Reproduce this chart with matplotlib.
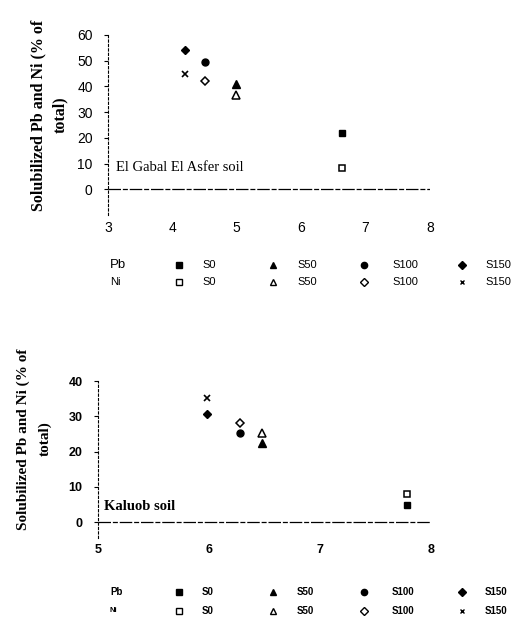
import numpy as np
import matplotlib.pyplot as plt

# treatments: S0, S50, S100, S150
treat = ["S0", "S50", "S100", "S150"]

# El Gabal El Asfer soil
x_gabal = [6.64, 4.98, 4.5, 4.2]
pb_gabal = [21.8, 40.8, 49.4, 54.0]
ni_gabal = [8.2, 36.6, 42.0, 44.8]

# Kaluob soil
x_kal = [7.78, 6.48, 6.28, 5.98]
pb_kal = [4.8, 22.4, 25.2, 30.6]
ni_kal = [8.0, 25.2, 28.0, 35.2]

pb_marks = ["s", "^", "o", "D"]
ni_marks = ["s", "^", "D", "x"]
pb_size = [5, 5.5, 5, 4.5]
ni_size = [5, 5.5, 4.5, 4.5]

W, H = 518, 624
fig = plt.figure(figsize=(W / 100, H / 100), dpi=100)


def px_axes(left, right, top, bottom):
    return fig.add_axes([left / W, 1 - bottom / H, (right - left) / W, (bottom - top) / H])


def draw_points(ax, xs, pb, ni):
    for i in range(len(xs)):
        ax.plot(xs[i], pb[i], pb_marks[i], color="black", ms=pb_size[i], mec="black")
        if ni_marks[i] == "x":
            ax.plot(xs[i], ni[i], "x", color="black", ms=ni_size[i], mew=1.2)
        else:
            ax.plot(xs[i], ni[i], ni_marks[i], mfc="white", mec="black", ms=ni_size[i], mew=1.1)


def style_axes(ax):
    for s in ["top", "right", "bottom"]:
        ax.spines[s].set_visible(False)
    ax.spines["left"].set_linestyle((0, (2, 2)))
    ax.spines["left"].set_linewidth(0.8)
    ax.axhline(0, color="black", lw=0.9, ls=(0, (10, 1.5, 4, 1.5)))
    ax.tick_params(axis="x", length=0, pad=4)
    ax.tick_params(axis="y", length=3, width=0.8, direction="out", pad=8)


# ---- top chart ----
ax1 = px_axes(108, 430, 35, 215)
draw_points(ax1, x_gabal, pb_gabal, ni_gabal)
ax1.set_xlim(3, 8)
ax1.set_ylim(-10, 60)
ax1.set_yticks([0, 10, 20, 30, 40, 50, 60])
ax1.set_xticks([3, 4, 5, 6, 7, 8])
style_axes(ax1)
for lab in ax1.get_yticklabels() + ax1.get_xticklabels():
    lab.set_fontsize(10)
    lab.set_family("Liberation Sans")
ax1.text(3.13, 8.5, "El Gabal El Asfer soil", family="Liberation Serif", fontsize=10.5,
         va="center", ha="left")
fig.text(49 / W, 1 - 115 / H, "Solubilized Pb and Ni (% of\ntotal)", rotation=90,
         ha="center", va="center", multialignment="center", family="Liberation Serif",
         fontweight="bold", fontsize=11.5, linespacing=1.45)

# ---- bottom chart ----
ax2 = px_axes(98, 431, 381, 538)
draw_points(ax2, x_kal, pb_kal, ni_kal)
ax2.set_xlim(5, 8)
ax2.set_ylim(-4.5, 40)
ax2.set_yticks([0, 10, 20, 30, 40])
ax2.set_xticks([5, 6, 7, 8])
style_axes(ax2)
for lab in ax2.get_yticklabels() + ax2.get_xticklabels():
    lab.set_fontsize(9)
    lab.set_fontweight("bold")
    lab.set_family("Liberation Sans")
ax2.text(5.05, 4.5, "Kaluob soil", family="Liberation Serif", fontsize=10.5,
         fontweight="bold", va="center", ha="left")
fig.text(34 / W, 1 - 439 / H, "Solubilized Pb and Ni (% of\ntotal)", rotation=90,
         ha="center", va="center", multialignment="center", family="Liberation Serif",
         fontweight="bold", fontsize=11, linespacing=1.75)

# ---- legends ----
leg = fig.add_axes([0, 0, 1, 1])
leg.set_xlim(0, W)
leg.set_ylim(H, 0)
leg.axis("off")
mark_x = [179, 273, 364, 462]
text_x = [202, 297, 392, 485]


def legend_block(y_pb, y_ni, fs_name, fs_lab, bold):
    fw = "bold" if bold else "normal"
    leg.text(110, y_pb, "Pb", fontsize=fs_name, va="center", family="Liberation Sans", fontweight=fw)
    leg.text(110, y_ni, "Ni", fontsize=fs_name - 1.5, va="center", family="Liberation Sans", fontweight=fw)
    for i in range(4):
        leg.plot(mark_x[i], y_pb, pb_marks[i], color="black", ms=pb_size[i] - 0.5)
        if ni_marks[i] == "x":
            leg.plot(mark_x[i], y_ni, "x", color="black", ms=ni_size[i] - 1, mew=1)
        else:
            leg.plot(mark_x[i], y_ni, ni_marks[i], mfc="white", mec="black", ms=ni_size[i] - 0.5, mew=1)
        leg.text(text_x[i], y_pb, treat[i], fontsize=fs_lab, va="center", family="Liberation Sans", fontweight=fw)
        leg.text(text_x[i], y_ni, treat[i], fontsize=fs_lab, va="center", family="Liberation Sans", fontweight=fw)


legend_block(265, 282, 9.5, 8, False)
legend_block(592, 611, 7, 7, True)

fig.savefig("out.png", dpi=100)
